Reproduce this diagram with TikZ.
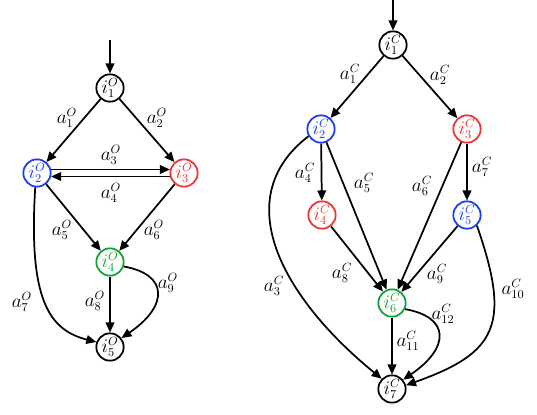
\documentclass[tikz,border=0pt]{standalone}
\usepackage{amsmath,amssymb}
\usepackage{tikz}
\usetikzlibrary{arrows.meta,positioning}
\definecolor{cBlue}{HTML}{1A3CF0}
\definecolor{cRed}{HTML}{F03232}
\definecolor{cGreen}{HTML}{12A232}

\begin{document}
\begin{tikzpicture}[
  x=0.75pt, y=0.75pt,
  font=\fontsize{13.5}{16}\selectfont,
  inode/.style={
    circle, draw=black, fill=white, line width=1.3pt,
    minimum size=20.5pt, inner sep=0
  },
  flow/.style={-{Triangle[length=7.5pt,width=6.5pt]}, line width=1.3pt},
  lab/.style={inner sep=0},
]
\useasboundingbox (0,0) rectangle (537,-415);
% Left graph
\coordinate (inO) at (110,-40);
\node[inode] (i1O) at (110,-88) {$i^O_1$};
\node[inode,draw=cBlue,text=cBlue] (i2O) at (37,-173) {$i^O_2$};
\node[inode,draw=cRed,text=cRed] (i3O) at (184,-173) {$i^O_3$};
\node[inode,draw=cGreen,text=cGreen] (i4O) at (110,-262) {$i^O_4$};
\node[inode] (i5O) at (110,-347) {$i^O_5$};
% Left arrows
\draw[flow] (inO) -- (i1O);
\draw[flow] (i1O) -- (i2O);
\draw[flow] (i1O) -- (i3O);
\draw[flow] (i2O.14) -- (i3O.166);
\draw[flow] (i3O.-166) -- (i2O.-14);
\draw[flow] (i2O) -- (i4O);
\draw[flow] (i3O) -- (i4O);
\draw[flow] (i2O.-97) .. controls +(-7,-113) and +(-47,12) .. (i5O.160);
\draw[flow] (i4O) -- (i5O);
\draw[flow] (i4O.-18) .. controls +(45,-8) and +(47,32) .. (i5O.38);
% Left labels
\node[lab] (a1O) at (67,-118) {$a^O_1$};
\node[lab] (a2O) at (157,-118) {$a^O_2$};
\node[lab] (a3O) at (111,-155) {$a^O_3$};
\node[lab] (a4O) at (111,-193) {$a^O_4$};
\node[lab] (a5O) at (62,-230) {$a^O_5$};
\node[lab] (a6O) at (154,-230) {$a^O_6$};
\node[lab] (a7O) at (22,-302) {$a^O_7$};
\node[lab] (a8O) at (95,-301) {$a^O_8$};
\node[lab] (a9O) at (168,-283) {$a^O_9$};
% Right graph
\coordinate (inC) at (393,0);
\node[inode] (i1C) at (393,-45) {$i^C_1$};
\node[inode,draw=cBlue,text=cBlue] (i2C) at (321,-129) {$i^C_2$};
\node[inode,draw=cRed,text=cRed] (i3C) at (467,-129) {$i^C_3$};
\node[inode,draw=cRed,text=cRed] (i4C) at (322,-215) {$i^C_4$};
\node[inode,draw=cBlue,text=cBlue] (i5C) at (467,-215) {$i^C_5$};
\node[inode,draw=cGreen,text=cGreen] (i6C) at (392,-303) {$i^C_6$};
\node[inode] (i7C) at (392,-389) {$i^C_7$};
% Right arrows
\draw[flow] (inC) -- (i1C);
\draw[flow] (i1C) -- (i2C);
\draw[flow] (i1C) -- (i3C);
\draw[flow] (i2C) -- (i4C);
\draw[flow] (i2C) -- (i6C);
\draw[flow] (i3C) -- (i6C);
\draw[flow] (i3C) -- (i5C);
\draw[flow] (i4C) -- (i6C);
\draw[flow] (i5C) -- (i6C);
\draw[flow] (i2C.210) .. controls +(-82,-63) and +(-97,79) .. (i7C.135);
\draw[flow] (i5C.-47) .. controls +(35,-100) and +(90,32) .. (i7C.15);
\draw[flow] (i6C) -- (i7C);
\draw[flow] (i6C.-25) .. controls +(45,-8) and +(47,32) .. (i7C.40);
% Right labels
\node[lab] (a1C) at (350,-74) {$a^C_1$};
\node[lab] (a2C) at (440,-75) {$a^C_2$};
\node[lab] (a3C) at (274,-286) {$a^C_3$};
\node[lab] (a4C) at (305,-173) {$a^C_4$};
\node[lab] (a5C) at (364,-183) {$a^C_5$};
\node[lab] (a6C) at (422,-186) {$a^C_6$};
\node[lab] (a7C) at (482,-167) {$a^C_7$};
\node[lab] (a8C) at (342,-273) {$a^C_8$};
\node[lab] (a9C) at (437,-274) {$a^C_9$};
\node[lab] (a10C) at (513,-289) {$a^C_{10}$};
\node[lab] (a11C) at (408,-341) {$a^C_{11}$};
\node[lab] (a12C) at (443,-314) {$a^C_{12}$};
\end{tikzpicture}
\end{document}
